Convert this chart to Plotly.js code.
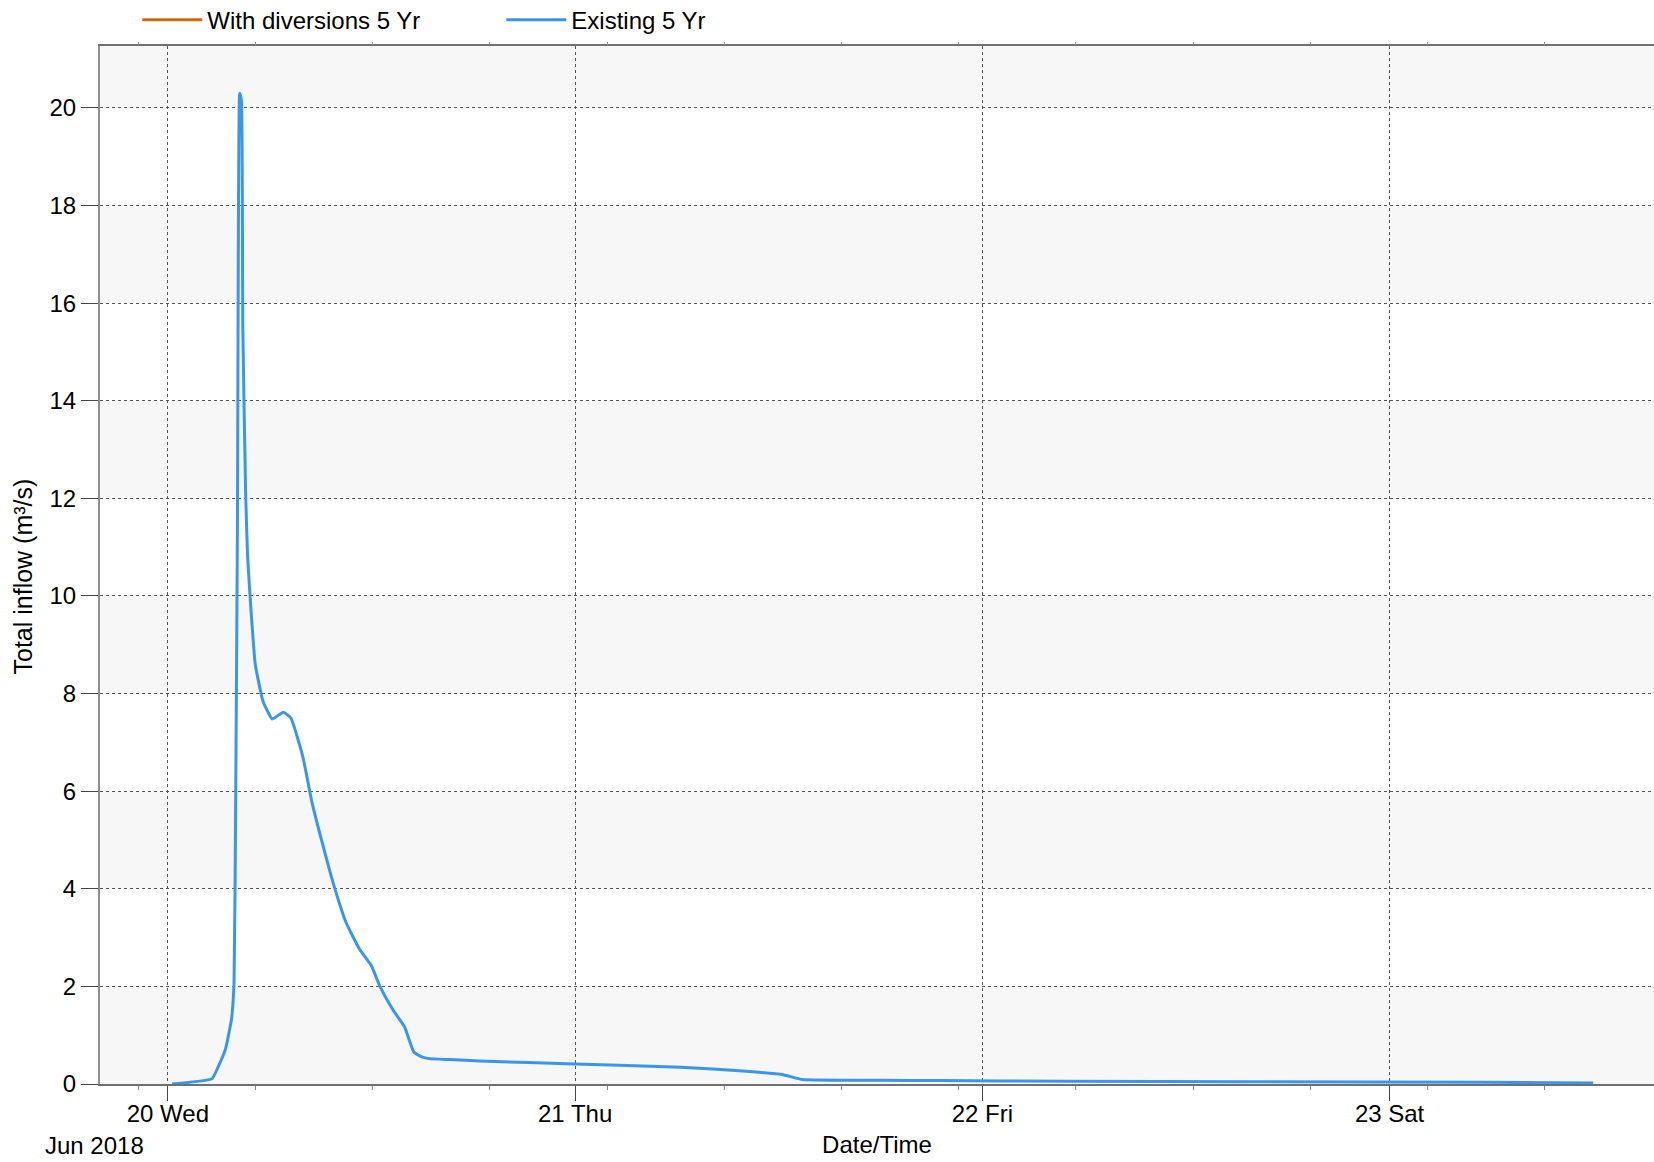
<!DOCTYPE html>
<html>
<head>
<meta charset="utf-8">
<script src="https://cdn.plot.ly/plotly-3.0.1.min.js"></script>
<style>
html,body{margin:0;padding:0;background:#fff;}
#chart{width:1654px;height:1162px;}
</style>
</head>
<body>
<div id="chart"></div>
<script>
// ---- data ----
const seriesNames = ["With diversions 5 Yr", "Existing 5 Yr"];

const withDiversionsTime = [];   // not visible in the reference
const withDiversionsFlow = [];

const existingTime = [
  "2018-06-20 00:15", "2018-06-20 02:36", "2018-06-20 03:00", "2018-06-20 03:24",
  "2018-06-20 03:45", "2018-06-20 03:54", "2018-06-20 04:00", "2018-06-20 04:06",
  "2018-06-20 04:09", "2018-06-20 04:14", "2018-06-20 04:20", "2018-06-20 04:25",
  "2018-06-20 04:35", "2018-06-20 04:42", "2018-06-20 04:54", "2018-06-20 05:09",
  "2018-06-20 05:36", "2018-06-20 06:09", "2018-06-20 06:48", "2018-06-20 07:15",
  "2018-06-20 07:57", "2018-06-20 08:30", "2018-06-20 09:06", "2018-06-20 09:48",
  "2018-06-20 10:30", "2018-06-20 11:18", "2018-06-20 12:00", "2018-06-20 12:30",
  "2018-06-20 13:18", "2018-06-20 13:57", "2018-06-20 14:30", "2018-06-20 15:00",
  "2018-06-20 15:24", "2018-06-20 16:36", "2018-06-20 18:24", "2018-06-21 00:00",
  "2018-06-21 06:12", "2018-06-21 10:06", "2018-06-21 12:12", "2018-06-21 13:24",
  "2018-06-21 18:00", "2018-06-21 21:30", "2018-06-22 04:54", "2018-06-22 15:30",
  "2018-06-23 05:30", "2018-06-23 12:00"
];
const existingFlow = [
  0.00, 0.11, 0.38, 0.72,
  1.33, 2.08, 6.03, 11.47,
  16.9, 20.3, 20.15, 15.5,
  12.1, 10.8, 9.7, 8.6,
  7.85, 7.48, 7.62, 7.50,
  6.71, 5.76, 4.94, 4.05,
  3.31, 2.76, 2.42, 2.00,
  1.50, 1.17, 0.65, 0.55,
  0.52, 0.50, 0.47, 0.41,
  0.345, 0.26, 0.195, 0.09,
  0.075, 0.07, 0.055, 0.045,
  0.035, 0.02
];

const yTickVals = [0, 2, 4, 6, 8, 10, 12, 14, 16, 18, 20];
const xTickVals = ["2018-06-20", "2018-06-21", "2018-06-22", "2018-06-23"];
const xTickText = ["20 Wed", "21 Thu", "22 Fri", "23 Sat"];
const xRange = ["2018-06-19 20:00", "2018-06-23 15:35"];
const yRange = [0, 21.27];

// ---- chart ----
const FONT = "Liberation Sans, Arial, sans-serif";
const colors = ["#d0680f", "#3a96eb"];

const traces = [
  { type: "scatter", mode: "lines", name: seriesNames[0],
    x: withDiversionsTime.length ? withDiversionsTime : [null],
    y: withDiversionsFlow.length ? withDiversionsFlow : [null],
    line: { color: colors[0], width: 3 }, hoverinfo: "x+y" },
  { type: "scatter", mode: "lines", name: seriesNames[1],
    x: existingTime, y: existingFlow,
    line: { color: colors[1], width: 3, shape: "spline", smoothing: 0.4 }, hoverinfo: "x+y" }
];

// alternating horizontal bands
const shapes = [];
const bandEdges = yTickVals.concat([yRange[1]]);
for (let i = 0; i < bandEdges.length - 1; i += 2) {
  shapes.push({ type: "rect", xref: "paper", yref: "y", layer: "below",
    x0: 0, x1: 1, y0: bandEdges[i], y1: bandEdges[i + 1],
    fillcolor: "#f7f7f7", line: { width: 0 } });
}

const minorTick0 = "2018-06-19 22:15:36";
const minorDtick = 24866000;

const layout = {
  width: 1654, height: 1162,
  margin: { l: 100, r: 0, t: 46, b: 78, pad: 0, autoexpand: false },
  paper_bgcolor: "#ffffff", plot_bgcolor: "#ffffff",
  font: { family: FONT, size: 24, color: "#000" },
  showlegend: true,
  legend: { orientation: "h", x: 0.024, xanchor: "left", y: 1.025, yanchor: "middle",
    font: { family: FONT, size: 24, color: "#000" }, bgcolor: "rgba(0,0,0,0)",
    entrywidth: 289, entrywidthmode: "pixels", itemwidth: 60, traceorder: "normal" },
  xaxis: {
    type: "date", range: xRange,
    tickmode: "array", tickvals: xTickVals, ticktext: xTickText,
    ticks: "outside", ticklen: 15, tickwidth: 1, tickcolor: "#444",
    ticklabelstandoff: -8,
    tickfont: { family: FONT, size: 24, color: "#000" },
    showgrid: true, gridcolor: "#555", gridwidth: 1, griddash: "dot",
    showline: true, linecolor: "#707070", linewidth: 2, mirror: true,
    zeroline: false,
    minor: { tick0: minorTick0, dtick: minorDtick, ticks: "outside", ticklen: 4,
             tickcolor: "#888", showgrid: false },
    title: { text: "Date/Time", font: { family: FONT, size: 24, color: "#000" }, standoff: 10 }
  },
  xaxis2: {
    type: "date", range: xRange, overlaying: "x", side: "top", anchor: "y",
    tickmode: "linear", tick0: minorTick0, dtick: minorDtick,
    ticks: "outside", ticklen: 3, tickcolor: "#999",
    showticklabels: false, showgrid: false, showline: false, zeroline: false
  },
  yaxis: {
    range: yRange, tickmode: "array", tickvals: yTickVals,
    ticks: "outside", ticklen: 17, tickwidth: 1, tickcolor: "#444",
    tickfont: { family: FONT, size: 24, color: "#000" },
    showgrid: true, gridcolor: "#555", gridwidth: 1, griddash: "dot",
    showline: true, linecolor: "#909090", linewidth: 2, mirror: true,
    zeroline: false
  },
  shapes: shapes,
  annotations: [
    { text: "Jun 2018", xref: "paper", yref: "paper", x: -0.037, y: -0.0595,
      xanchor: "left", yanchor: "middle", showarrow: false,
      font: { family: FONT, size: 24, color: "#000" } },
    { text: "Total inflow (m³/s)", xref: "paper", yref: "paper", x: -0.0495, y: 0.489,
      xanchor: "center", yanchor: "middle", textangle: -90, showarrow: false,
      font: { family: FONT, size: 25, color: "#000" } }
  ]
};

// dummy trace on xaxis2 so the top minor ticks render
traces.push({ type: "scatter", mode: "lines", x: [xRange[0]], y: [null], xaxis: "x2",
  showlegend: false, hoverinfo: "skip" });

Plotly.newPlot("chart", traces, layout, { displayModeBar: false, staticPlot: true });
</script>
</body>
</html>
